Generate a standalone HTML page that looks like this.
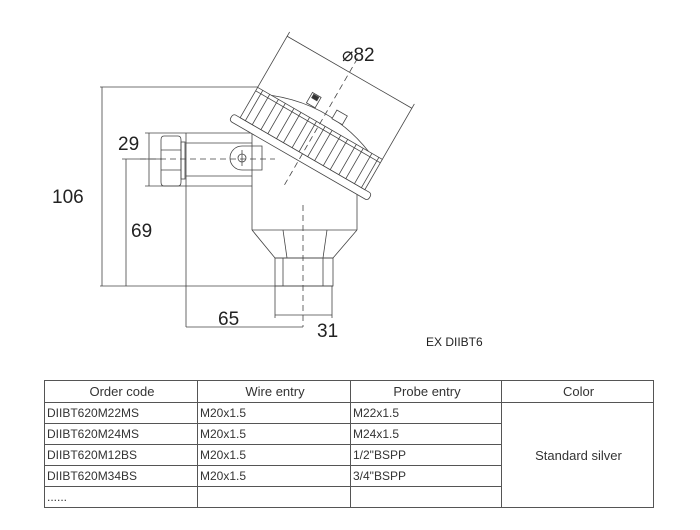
<!DOCTYPE html>
<html><head><meta charset="utf-8"><style>
html,body{margin:0;padding:0;background:#fff;width:700px;height:530px;overflow:hidden}
svg{position:absolute;left:0;top:0}
table{position:absolute;left:44px;top:380px;width:610px;border-collapse:collapse;font-family:"Liberation Sans",sans-serif;font-size:12px;color:#333}
td{border:1px solid #555;height:20px;padding:0 0 0 2px;white-space:nowrap}
tr.h td{text-align:center;font-size:13px;height:21px}
</style></head><body>
<svg width="700" height="360" viewBox="0 0 700 360" font-family="Liberation Sans, sans-serif" fill="none" stroke="#444" stroke-width="0.8">
<!-- 106 dim -->
<line x1="100" y1="87" x2="258" y2="87"/>
<line x1="100" y1="286" x2="333" y2="286"/>
<line x1="102" y1="87" x2="102" y2="286"/>
<!-- 29 dim -->
<line x1="145" y1="133" x2="186" y2="133"/>
<line x1="145" y1="186" x2="186" y2="186"/>
<line x1="149" y1="133" x2="149" y2="186"/>
<!-- 69 dim -->
<line x1="122" y1="159" x2="162" y2="159"/>
<line x1="126" y1="159" x2="126" y2="286"/>
<!-- center dashed horizontal -->
<line x1="140" y1="159" x2="275" y2="159" stroke-dasharray="6,4"/>
<!-- nut -->
<path d="M164 136 L178 136 Q181 136 181 140 L181 182 Q181 186 178 186 L164 186 Q161 186 161 182 L161 140 Q161 136 164 136 Z"/>
<line x1="161" y1="150" x2="181" y2="150"/>
<line x1="161" y1="170" x2="181" y2="170"/>
<rect x="181" y="142" width="4" height="37"/>
<!-- pipe -->
<line x1="186" y1="133" x2="252" y2="133"/>
<line x1="186" y1="186" x2="252" y2="186"/>
<line x1="186" y1="143" x2="252" y2="143"/>
<line x1="186" y1="176" x2="252" y2="176"/>
<line x1="186" y1="133" x2="186" y2="327"/>
<!-- lug -->
<path d="M242 146 L262 146 L262 170 L242 170 A12 12 0 0 1 242 146 Z"/>
<circle cx="242" cy="158" r="4"/>
<line x1="242" y1="150" x2="242" y2="166"/>
<!-- body -->
<line x1="252" y1="125" x2="252" y2="230"/>
<line x1="357" y1="193" x2="357" y2="230"/>
<line x1="252" y1="230" x2="357" y2="230"/>
<path d="M252 230 L275 258 L333 258 L357 230"/>
<line x1="283" y1="230" x2="287" y2="258"/>
<line x1="327" y1="230" x2="323" y2="258"/>
<rect x="275" y="258" width="58" height="28"/>
<line x1="283" y1="258" x2="283" y2="286"/>
<line x1="323" y1="258" x2="323" y2="286"/>
<line x1="303" y1="205" x2="303" y2="327" stroke-dasharray="6,4"/>
<!-- 65 / 31 dims -->
<line x1="186" y1="327" x2="303" y2="327"/>
<line x1="275" y1="286" x2="275" y2="318"/>
<line x1="332" y1="286" x2="332" y2="318"/>
<line x1="275" y1="315" x2="332" y2="315"/>
<!-- cap -->
<g transform="translate(300,158) rotate(30)">
<rect x="-80" y="-5" width="160" height="8" rx="3" fill="#fff"/>
<rect x="-72" y="-40" width="144" height="35" fill="#fff"/>
<line x1="-72" y1="-36" x2="72" y2="-36"/>
<path d="M-56 -40 Q0 -62 56 -40"/>
<line x1="-66" y1="-40" x2="-66" y2="-5"/><line x1="-58" y1="-40" x2="-58" y2="-5"/>
<line x1="-48" y1="-40" x2="-48" y2="-5"/><line x1="-40" y1="-40" x2="-40" y2="-5"/>
<line x1="-30" y1="-40" x2="-30" y2="-5"/><line x1="-22" y1="-40" x2="-22" y2="-5"/>
<line x1="-12" y1="-40" x2="-12" y2="-5"/><line x1="-4" y1="-40" x2="-4" y2="-5"/>
<line x1="6" y1="-40" x2="6" y2="-5"/><line x1="14" y1="-40" x2="14" y2="-5"/>
<line x1="24" y1="-40" x2="24" y2="-5"/><line x1="32" y1="-40" x2="32" y2="-5"/>
<line x1="42" y1="-40" x2="42" y2="-5"/><line x1="50" y1="-40" x2="50" y2="-5"/>
<line x1="60" y1="-40" x2="60" y2="-5"/><line x1="68" y1="-40" x2="68" y2="-5"/>
<rect x="-22" y="-63" width="10" height="12" fill="#fff"/>
<rect x="-20" y="-62" width="6" height="4" fill="#333"/>
<rect x="8" y="-60" width="12" height="10" fill="#fff"/>
<line x1="0" y1="-115" x2="0" y2="32" stroke-dasharray="6,4"/>
<line x1="-72" y1="-40" x2="-72" y2="-104"/>
<line x1="72" y1="-40" x2="72" y2="-104"/>
<line x1="-72" y1="-99" x2="72" y2="-99"/>
</g>
<g fill="#222" stroke="none" font-size="19">
<text x="52" y="203">106</text>
<text x="118" y="150">29</text>
<text x="131" y="237">69</text>
<text x="218" y="325">65</text>
<text x="317" y="337">31</text>
<text x="342" y="61">⌀82</text>
<text x="426" y="346" font-size="12">EX DIIBT6</text>
</g>
</svg>
<table>
<tr class="h"><td style="width:150px">Order code</td><td style="width:150px">Wire entry</td><td style="width:148px">Probe entry</td><td>Color</td></tr>
<tr><td>DIIBT620M22MS</td><td>M20x1.5</td><td>M22x1.5</td><td rowspan="5" style="text-align:center;font-size:13px">Standard silver</td></tr>
<tr><td>DIIBT620M24MS</td><td>M20x1.5</td><td>M24x1.5</td></tr>
<tr><td>DIIBT620M12BS</td><td>M20x1.5</td><td>1/2"BSPP</td></tr>
<tr><td>DIIBT620M34BS</td><td>M20x1.5</td><td>3/4"BSPP</td></tr>
<tr><td>......</td><td></td><td></td></tr>
</table>
</body></html>
